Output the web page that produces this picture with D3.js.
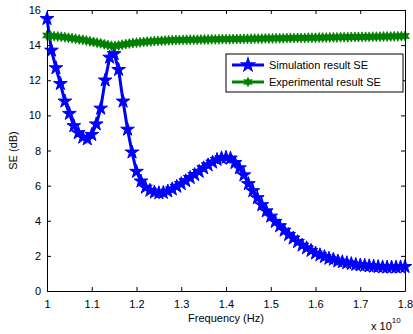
<!DOCTYPE html>
<html>
<head>
<meta charset="utf-8">
<script src="https://cdn.jsdelivr.net/npm/d3@7"></script>
<style>
  body { margin: 0; background: #fff; }
  text { font-family: "Liberation Sans", Arial, sans-serif; fill: #000; }
</style>
</head>
<body>
<div id="chart"></div>
<script>
// frequency grid in units of 1e10 Hz
const simFreqStart = 1.0, simFreqStep = 0.01;
const simSE = [
  15.5, 13.7, 12.7, 11.8, 10.8, 10.1, 9.4, 9.0, 8.75, 8.65,
  8.9, 9.5, 10.4, 12.0, 13.3, 13.5, 12.6, 10.8, 9.2, 7.9,
  6.8, 6.25, 5.9, 5.72, 5.62, 5.58, 5.6, 5.68, 5.8, 5.95,
  6.1, 6.27, 6.45, 6.62, 6.8, 7.0, 7.17, 7.33, 7.48, 7.57,
  7.6, 7.55, 7.3, 7.0, 6.6, 6.1, 5.7, 5.3, 4.9, 4.55,
  4.25, 3.95, 3.7, 3.45, 3.2, 3.0, 2.8, 2.6, 2.45, 2.3,
  2.15, 2.05, 1.95, 1.85, 1.8, 1.7, 1.65, 1.6, 1.55, 1.5,
  1.47, 1.45, 1.42, 1.4, 1.38, 1.36, 1.35, 1.35, 1.35, 1.36,
  1.38
];
const expFreqStart = 1.0, expFreqStep = 0.008;
const expSE = [
  14.55, 14.53, 14.51, 14.49, 14.47, 14.45, 14.42, 14.39, 14.36, 14.33,
  14.30, 14.26, 14.22, 14.18, 14.14, 14.10, 14.05, 14.00, 13.96, 13.95,
  13.98, 14.02, 14.06, 14.09, 14.12, 14.14, 14.16, 14.18, 14.20, 14.21,
  14.23, 14.24, 14.25, 14.26, 14.27, 14.28, 14.29, 14.29, 14.30, 14.30,
  14.31, 14.31, 14.31, 14.32, 14.32, 14.32, 14.33, 14.33, 14.33, 14.34,
  14.34, 14.34, 14.35, 14.35, 14.35, 14.36, 14.36, 14.36, 14.37, 14.37,
  14.37, 14.38, 14.38, 14.38, 14.39, 14.39, 14.39, 14.40, 14.40, 14.40,
  14.41, 14.41, 14.41, 14.42, 14.42, 14.42, 14.43, 14.43, 14.43, 14.44,
  14.44, 14.44, 14.45, 14.45, 14.45, 14.46, 14.46, 14.46, 14.47, 14.47,
  14.47, 14.48, 14.48, 14.48, 14.49, 14.49, 14.49, 14.50, 14.50, 14.51,
  14.52
];
const xTicks = [1, 1.1, 1.2, 1.3, 1.4, 1.5, 1.6, 1.7, 1.8];
const yTicks = [0, 2, 4, 6, 8, 10, 12, 14, 16];
const seriesNames = ["Simulation result SE", "Experimental result SE"];
const seriesColors = ["#0000ff", "#008000"];

const width = 413, height = 334;
const margin = { top: 10, right: 8, bottom: 43, left: 47 };
const innerW = width - margin.left - margin.right;
const innerH = height - margin.top - margin.bottom;

const svg = d3.select("#chart").append("svg")
  .attr("width", width)
  .attr("height", height);

const g = svg.append("g")
  .attr("transform", `translate(${margin.left},${margin.top})`);

const x = d3.scaleLinear().domain([1, 1.8]).range([0, innerW]);
const y = d3.scaleLinear().domain([0, 16]).range([innerH, 0]);

const simData = simSE.map((v, i) => ({ f: simFreqStart + i * simFreqStep, v }));
const expData = expSE.map((v, i) => ({ f: expFreqStart + i * expFreqStep, v }));

// six-pointed star (hexagram) path
function hexagram(r) {
  const pts = [];
  for (let k = 0; k < 12; k++) {
    const a = -Math.PI / 2 + k * Math.PI / 6;
    const rr = k % 2 === 0 ? r : r * 0.5;
    pts.push([rr * Math.cos(a), rr * Math.sin(a)]);
  }
  return "M" + pts.map(p => p.join(",")).join("L") + "Z";
}
const starPath = d3.symbol().type(d3.symbolStar).size(58)();
const hexPath = hexagram(5);

const line = d3.line().x(d => x(d.f)).y(d => y(d.v));

// simulation series
g.append("path")
  .datum(simData)
  .attr("d", line)
  .attr("fill", "none")
  .attr("stroke", seriesColors[0])
  .attr("stroke-width", 3);
g.selectAll(".simMark")
  .data(simData)
  .enter().append("path")
  .attr("class", "simMark")
  .attr("d", starPath)
  .attr("transform", d => `translate(${x(d.f)},${y(d.v)})`)
  .attr("fill", seriesColors[0])
  .attr("stroke", seriesColors[0])
  .attr("stroke-width", 1);

// experimental series
g.append("path")
  .datum(expData)
  .attr("d", line)
  .attr("fill", "none")
  .attr("stroke", seriesColors[1])
  .attr("stroke-width", 3);
g.selectAll(".expMark")
  .data(expData)
  .enter().append("path")
  .attr("class", "expMark")
  .attr("d", hexPath)
  .attr("transform", d => `translate(${x(d.f)},${y(d.v)})`)
  .attr("fill", seriesColors[1])
  .attr("stroke", seriesColors[1])
  .attr("stroke-width", 0.8);

// axes (ticks inward, mirrored on all sides)
const tickLen = 4;
g.append("g")
  .attr("transform", `translate(0,${innerH})`)
  .call(d3.axisBottom(x).tickValues(xTicks).tickSizeInner(-tickLen).tickSizeOuter(0)
    .tickPadding(9).tickFormat(d3.format("~g")));
g.append("g")
  .call(d3.axisTop(x).tickValues(xTicks).tickSizeInner(-tickLen).tickSizeOuter(0).tickFormat(""));
g.append("g")
  .call(d3.axisLeft(y).tickValues(yTicks).tickSizeInner(-tickLen).tickSizeOuter(0).tickPadding(6));
g.append("g")
  .attr("transform", `translate(${innerW},0)`)
  .call(d3.axisRight(y).tickValues(yTicks).tickSizeInner(-tickLen).tickSizeOuter(0).tickFormat(""));

g.selectAll(".domain").attr("stroke", "#000").attr("stroke-width", 1);
g.selectAll(".tick line").attr("stroke", "#000");
g.selectAll(".tick text")
  .style("font-family", "'Liberation Sans', Arial, sans-serif")
  .style("font-size", "11px")
  .attr("fill", "#000");

// axis labels
svg.append("text")
  .attr("x", margin.left + innerW / 2)
  .attr("y", 322)
  .attr("text-anchor", "middle")
  .style("font-size", "11px")
  .text("Frequency (Hz)");

svg.append("text")
  .attr("transform", `translate(17,${margin.top + innerH / 2}) rotate(-90)`)
  .attr("text-anchor", "middle")
  .style("font-size", "11px")
  .text("SE (dB)");

const expo = svg.append("text")
  .attr("x", 371)
  .attr("y", 330)
  .style("font-size", "11px");
expo.append("tspan").text("x 10");
expo.append("tspan").attr("dy", -7).style("font-size", "8px").text("10");

// legend
const legend = svg.append("g").attr("transform", "translate(226,54)");
legend.append("rect")
  .attr("width", 177).attr("height", 38)
  .attr("fill", "#fff").attr("stroke", "#000").attr("stroke-width", 1);
seriesNames.forEach((name, i) => {
  const ly = 11 + i * 17;
  legend.append("line")
    .attr("x1", 6).attr("x2", 38).attr("y1", ly).attr("y2", ly)
    .attr("stroke", seriesColors[i]).attr("stroke-width", 3);
  legend.append("path")
    .attr("d", i === 0 ? d3.symbol().type(d3.symbolStar).size(90)() : hexagram(5.5))
    .attr("transform", `translate(22,${ly})`)
    .attr("fill", seriesColors[i]);
  legend.append("text")
    .attr("x", 43).attr("y", ly + 4)
    .style("font-size", "11px")
    .text(name);
});
</script>
</body>
</html>
